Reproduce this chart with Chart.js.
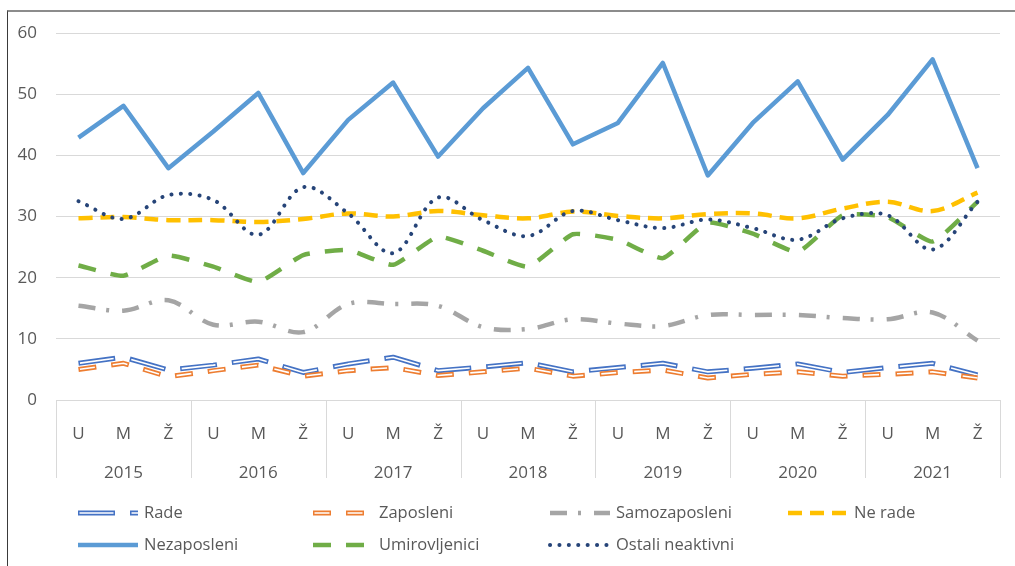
<!DOCTYPE html>
<html>
<head>
<meta charset="utf-8">
<script src="https://cdn.jsdelivr.net/npm/chart.js@4.4.1/dist/chart.umd.min.js"></script>
<style>
  html, body { margin: 0; padding: 0; background: #fff; overflow: hidden; }
  #wrap { position: relative; width: 1015px; height: 566px; }
  #frame { position: absolute; left: 7px; top: 10px; width: 1100px; height: 700px;
           border-top: 2px solid #8c8c8c; border-left: 1px solid #3a3a3a; }
  #chart { position: absolute; left: 0; top: 0; }
</style>
</head>
<body>
<div id="wrap">
  <div id="frame"></div>
  <canvas id="chart" width="1015" height="566"></canvas>
</div>
<script>
const years = ['2015', '2016', '2017', '2018', '2019', '2020', '2021'];
const seasons = ['U', 'M', 'Ž'];

const rade = [6.0, 7.0, 4.9, 5.7, 6.7, 4.5, 5.9, 7.0, 4.8, 5.4, 6.1, 4.6, 5.3, 6.0, 4.6, 5.2, 5.9, 4.5, 5.3, 6.0, 4.1];
const zaposleni = [5.0, 6.0, 3.8, 4.8, 5.7, 3.9, 4.8, 5.3, 4.0, 4.6, 5.2, 3.9, 4.5, 4.9, 3.6, 4.2, 4.6, 3.9, 4.2, 4.6, 3.6];
const samozaposleni = [15.4, 14.6, 16.3, 12.3, 12.8, 11.1, 15.7, 15.7, 15.4, 11.9, 11.6, 13.2, 12.5, 12.1, 13.9, 13.9, 13.9, 13.4, 13.2, 14.3, 9.7];
const neRade = [29.7, 29.9, 29.4, 29.4, 29.1, 29.6, 30.5, 30.0, 30.9, 30.2, 29.7, 30.8, 30.1, 29.7, 30.4, 30.5, 29.7, 31.3, 32.4, 30.9, 33.9];
const nezaposleni = [42.9, 48.1, 37.9, 43.9, 50.2, 37.1, 45.8, 51.9, 39.8, 47.7, 54.3, 41.8, 45.3, 55.1, 36.7, 45.3, 52.1, 39.3, 46.6, 55.7, 37.9];
const umirovljenici = [22.0, 20.3, 23.6, 21.8, 19.3, 23.7, 24.5, 22.1, 26.7, 24.4, 21.8, 27.1, 26.2, 23.2, 29.0, 27.2, 24.2, 30.2, 29.9, 25.9, 32.4];
const ostali = [32.5, 29.6, 33.5, 32.7, 27.0, 34.8, 30.5, 24.0, 33.1, 29.4, 26.8, 30.9, 29.4, 28.1, 29.5, 28.1, 26.2, 29.7, 30.2, 24.6, 32.4];

const labels = years.flatMap(y => seasons);
const FONT = '"Open Sans", "Noto Sans", sans-serif';
const TXT = '#595959';
const GRID = '#d9d9d9';

function line(label, data, color, width, dash, tension, order, cap) {
    return {
        label, data, xAxisID: 'x', yAxisID: 'y',
        borderColor: color, backgroundColor: color, borderWidth: width,
        borderDash: dash, borderCapStyle: cap || 'butt', borderJoinStyle: 'round',
        tension, pointRadius: 0, pointHoverRadius: 0, fill: false, order
    };
}

// white inner line that makes the "hollow" double stroke
function hollow(base, innerDash) {
    return Object.assign({}, base, {
        label: base.label + '_inner', borderColor: '#fff', borderWidth: 1.6,
        borderDash: innerDash, borderDashOffset: -1.5, order: base.order - 1, inner: true
    });
}

const dsRade = line('Rade', rade, '#4472c4', 5, [37, 15], 0, 20);
const dsZap = line('Zaposleni', zaposleni, '#ed7d31', 5, [18, 15], 0, 18);
const datasets = [
    dsRade, hollow(dsRade, [34, 18]),
    dsZap, hollow(dsZap, [15, 18]),
    line('Samozaposleni', samozaposleni, '#a5a5a5', 4.5, [17, 11, 3, 13], 0.35, 16),
    line('Ne rade', neRade, '#ffc000', 4.5, [14, 8], 0.35, 15),
    line('Nezaposleni', nezaposleni, '#5b9bd5', 4.5, [], 0, 14),
    line('Umirovljenici', umirovljenici, '#70ad47', 4.5, [18, 15], 0.15, 13),
    line('Ostali neaktivni', ostali, '#264478', 4, [0.1, 9.3], 0.35, 12, 'round')
];

// vertical separators between year groups on the x axis
const separators = {
    id: 'separators',
    afterDraw(chart) {
        const xs = chart.scales.x, x2 = chart.scales.x2, ctx = chart.ctx;
        ctx.save();
        ctx.strokeStyle = GRID;
        ctx.lineWidth = 1;
        for (let i = 0; i <= years.length; i++) {
            const x = Math.round(xs.left + i * xs.width / years.length) + 0.5;
            ctx.beginPath();
            ctx.moveTo(x, chart.chartArea.bottom);
            ctx.lineTo(x, x2.bottom);
            ctx.stroke();
        }
        ctx.restore();
    }
};

// legend in a fixed 4-column grid like the original
const gridLegend = {
    id: 'gridLegend',
    afterDraw(chart) {
        const ctx = chart.ctx;
        const items = chart.data.datasets.filter(d => !d.inner);
        const colX = [78, 313, 550, 788];
        const rowY = [513, 545];
        ctx.save();
        items.forEach((d, i) => {
            const x = colX[i % 4], y = rowY[Math.floor(i / 4)];
            ctx.setLineDash(d.borderDash);
            ctx.lineDashOffset = 0;
            ctx.lineCap = d.borderCapStyle;
            ctx.strokeStyle = d.borderColor;
            ctx.lineWidth = d.borderWidth;
            ctx.beginPath();
            ctx.moveTo(x, y);
            ctx.lineTo(x + 60, y);
            ctx.stroke();
            const inner = chart.data.datasets.find(o => o.inner && o.label === d.label + '_inner');
            if (inner) {
                ctx.setLineDash(inner.borderDash);
                ctx.lineDashOffset = -1.5;
                ctx.strokeStyle = '#fff';
                ctx.lineWidth = inner.borderWidth;
                ctx.beginPath();
                ctx.moveTo(x, y);
                ctx.lineTo(x + 60, y);
                ctx.stroke();
            }
            ctx.setLineDash([]);
            ctx.fillStyle = TXT;
            ctx.font = '16.5px ' + FONT;
            ctx.textBaseline = 'middle';
            ctx.textAlign = 'left';
            ctx.fillText(d.label, x + 66, y);
        });
        ctx.restore();
    }
};

new Chart(document.getElementById('chart'), {
    type: 'line',
    data: { labels, datasets },
    options: {
        responsive: false,
        animation: false,
        devicePixelRatio: 1,
        layout: { padding: { left: 0, top: 33, right: 15, bottom: 88 } },
        plugins: { legend: { display: false }, tooltip: { enabled: false } },
        scales: {
            y: {
                min: 0, max: 60,
                ticks: { stepSize: 10, color: TXT, font: { family: FONT, size: 17 }, padding: 19 },
                grid: { color: GRID, lineWidth: 1, drawTicks: false },
                border: { display: false },
                afterFit: s => { s.width = 56; }
            },
            x: {
                type: 'category', position: 'bottom', weight: 0, offset: true,
                grid: { display: false },
                border: { display: true, color: GRID, width: 1 },
                ticks: { color: TXT, font: { family: FONT, size: 17 }, padding: 16, autoSkip: false, maxRotation: 0 },
                afterFit: s => { s.height = 47; }
            },
            x2: {
                type: 'category', position: 'bottom', weight: 1,
                labels: years, offset: true,
                grid: { display: false },
                border: { display: false },
                ticks: { color: TXT, font: { family: FONT, size: 17 }, padding: 8, autoSkip: false, maxRotation: 0 },
                afterFit: s => { s.height = 31; }
            }
        }
    },
    plugins: [separators, gridLegend]
});
</script>
</body>
</html>
